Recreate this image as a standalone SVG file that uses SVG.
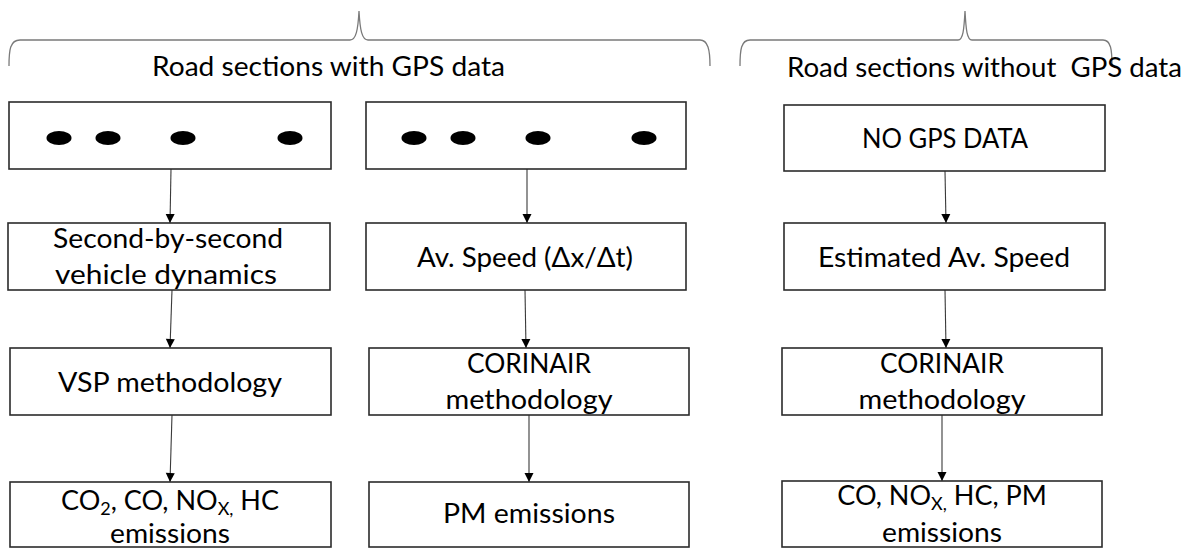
<svg xmlns="http://www.w3.org/2000/svg" width="1195" height="548" viewBox="0 0 1195 548">
  <style>
    .box { fill: #ffffff; stroke: #2b2b2b; stroke-width: 1.6; }
    .brace { fill: none; stroke: #7a7a7a; stroke-width: 1.3; }
    .edge { fill: none; stroke: #3a3a3a; stroke-width: 1.1; }
    .dot { fill: #000000; }
    text { font-family: Lato, "Open Sans", "Liberation Sans", sans-serif; font-size: 27px; fill: #000000; }
    .mid { text-anchor: middle; }
    .sub { font-size: 18px; }
  </style>
  <defs>
    <marker id="arrow" markerUnits="userSpaceOnUse" markerWidth="12" markerHeight="12" viewBox="0 0 12 12" refX="11" refY="6" orient="auto">
      <path d="M2,1.5 L11,6 L2,10.5 Z" fill="#000000"/>
    </marker>
  </defs>

  <rect width="1195" height="548" fill="#ffffff"/>

  <!-- group braces and headings -->
  <g id="header-gps">
    <path class="brace" d="M9,66 C9,50 10,40 20,40 L350,40 C356,40 358,30 359,11 C360,30 362,40 368,40 L700,40 C708,40 710,50 710,66"/>
    <text x="152" y="76" textLength="353" lengthAdjust="spacingAndGlyphs">Road sections with GPS data</text>
  </g>
  <g id="header-nogps">
    <path class="brace" d="M740,66 C740,50 741,40 750,40 L958,40 C963,40 964,30 965,11 C966,30 967,40 972,40 L1103,40 C1111,40 1112,50 1112,66"/>
    <text x="787" y="77" textLength="395" lengthAdjust="spacingAndGlyphs">Road sections without&#160; GPS data</text>
  </g>

  <!-- connectors -->
  <g id="connectors">
    <line class="edge" x1="171" y1="169" x2="170" y2="223" marker-end="url(#arrow)"/>
    <line class="edge" x1="527" y1="169" x2="527" y2="223" marker-end="url(#arrow)"/>
    <line class="edge" x1="945" y1="171" x2="946" y2="223" marker-end="url(#arrow)"/>
    <line class="edge" x1="172" y1="290" x2="170" y2="348" marker-end="url(#arrow)"/>
    <line class="edge" x1="525" y1="290" x2="526" y2="348" marker-end="url(#arrow)"/>
    <line class="edge" x1="945" y1="290" x2="946" y2="348" marker-end="url(#arrow)"/>
    <line class="edge" x1="172" y1="415" x2="170" y2="482" marker-end="url(#arrow)"/>
    <line class="edge" x1="529" y1="415" x2="529" y2="482" marker-end="url(#arrow)"/>
    <line class="edge" x1="942" y1="415" x2="942" y2="481" marker-end="url(#arrow)"/>
  </g>

  <!-- column 1: GPS points, second-by-second -->
  <g id="gps-points-1">
    <rect class="box" x="9" y="102" width="322" height="67"/>
    <ellipse class="dot" cx="59" cy="138" rx="12.5" ry="7"/>
    <ellipse class="dot" cx="108" cy="138" rx="12.5" ry="7"/>
    <ellipse class="dot" cx="183" cy="138" rx="12.5" ry="7"/>
    <ellipse class="dot" cx="290" cy="138" rx="12.5" ry="7"/>
  </g>
  <g id="vehicle-dynamics">
    <rect class="box" x="8" y="223" width="322" height="67"/>
    <text class="mid" x="168" y="248" textLength="230" lengthAdjust="spacingAndGlyphs">Second-by-second</text>
    <text class="mid" x="166" y="284" textLength="222" lengthAdjust="spacingAndGlyphs">vehicle dynamics</text>
  </g>
  <g id="vsp-methodology">
    <rect class="box" x="10" y="348" width="321" height="67"/>
    <text class="mid" x="170" y="392" textLength="224" lengthAdjust="spacingAndGlyphs">VSP methodology</text>
  </g>
  <g id="vsp-emissions">
    <rect class="box" x="10" y="482" width="321" height="65"/>
    <text class="mid" x="170" y="510">CO<tspan class="sub" dy="5">2</tspan><tspan dy="-5">, CO, NO</tspan><tspan class="sub" dy="5">X,</tspan><tspan dy="-5"> HC</tspan></text>
    <text class="mid" x="170" y="543" textLength="120" lengthAdjust="spacingAndGlyphs">emissions</text>
  </g>

  <!-- column 2: GPS points, average speed -->
  <g id="gps-points-2">
    <rect class="box" x="366" y="102" width="320" height="67"/>
    <ellipse class="dot" cx="414" cy="138" rx="12.5" ry="7"/>
    <ellipse class="dot" cx="463" cy="138" rx="12.5" ry="7"/>
    <ellipse class="dot" cx="538" cy="138" rx="12.5" ry="7"/>
    <ellipse class="dot" cx="644" cy="138" rx="12.5" ry="7"/>
  </g>
  <g id="average-speed">
    <rect class="box" x="366" y="223" width="320" height="67"/>
    <text class="mid" x="525" y="267" textLength="216" lengthAdjust="spacingAndGlyphs">Av. Speed (Δx/Δt)</text>
  </g>
  <g id="corinair-1">
    <rect class="box" x="369" y="348" width="320" height="67"/>
    <text class="mid" x="529" y="373" textLength="124" lengthAdjust="spacingAndGlyphs">CORINAIR</text>
    <text class="mid" x="529" y="409" textLength="167" lengthAdjust="spacingAndGlyphs">methodology</text>
  </g>
  <g id="pm-emissions">
    <rect class="box" x="369" y="482" width="320" height="65"/>
    <text class="mid" x="529" y="523" textLength="172" lengthAdjust="spacingAndGlyphs">PM emissions</text>
  </g>

  <!-- column 3: no GPS data -->
  <g id="no-gps-data">
    <rect class="box" x="784" y="105" width="321" height="66"/>
    <text class="mid" x="945" y="148" textLength="166" lengthAdjust="spacingAndGlyphs">NO GPS DATA</text>
  </g>
  <g id="estimated-speed">
    <rect class="box" x="784" y="223" width="321" height="67"/>
    <text class="mid" x="944" y="267" textLength="252" lengthAdjust="spacingAndGlyphs">Estimated Av. Speed</text>
  </g>
  <g id="corinair-2">
    <rect class="box" x="782" y="348" width="320" height="67"/>
    <text class="mid" x="942" y="373" textLength="124" lengthAdjust="spacingAndGlyphs">CORINAIR</text>
    <text class="mid" x="942" y="409" textLength="167" lengthAdjust="spacingAndGlyphs">methodology</text>
  </g>
  <g id="corinair-emissions">
    <rect class="box" x="782" y="481" width="320" height="66"/>
    <text class="mid" x="942" y="505">CO, NO<tspan class="sub" dy="5">X,</tspan><tspan dy="-5"> HC, PM</tspan></text>
    <text class="mid" x="942" y="542" textLength="120" lengthAdjust="spacingAndGlyphs">emissions</text>
  </g>
</svg>
